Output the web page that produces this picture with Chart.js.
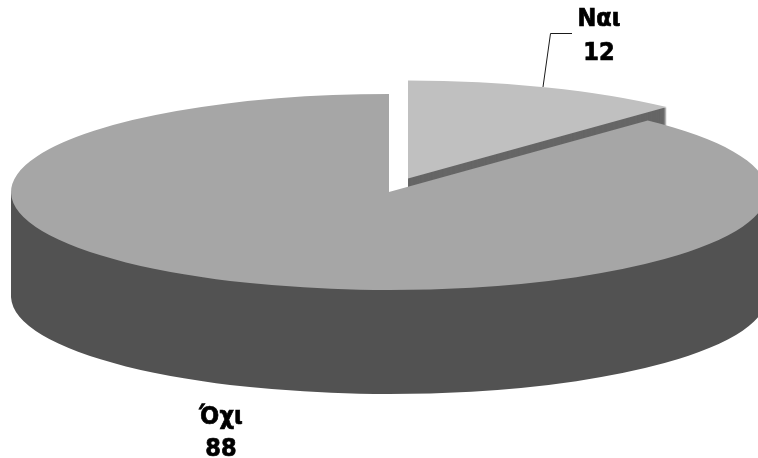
<!DOCTYPE html>
<html>
<head>
<meta charset="utf-8">
<style>
  html, body { margin: 0; background: #fff; overflow: hidden; }
</style>
<script src="https://cdn.jsdelivr.net/npm/chart.js@4"></script>
</head>
<body>
<canvas id="pie" width="758" height="458"></canvas>
<script>
const categories = ["Ναι", "Όχι"];
const values = [12, 88];
const topColors = ["#c0c0c0", "#a6a6a6"];
const wallColors = ["#666666", "#525252"];

const RADIUS = 378;
const TILT = 98 / 378;      // squash of the pie into an ellipse
const DEPTH = 104;
const CENTER_Y = 192;
const EXPLODE = [[19, -13.5], [0, 0]];

const pie3d = {
    id: 'pie3d',
    beforeDatasetsDraw(chart) {
        const ctx = chart.ctx;
        const arcs = chart.getDatasetMeta(0).data;

        arcs.forEach((arc, i) => {
            const opts = arc.options;
            const paint = (color, y) => {
                ctx.save();
                ctx.translate(EXPLODE[i][0], CENTER_Y + EXPLODE[i][1] + y);
                ctx.scale(1, TILT);
                ctx.translate(0, -arc.y);
                arc.options = Object.assign({}, opts, { backgroundColor: color, borderWidth: 0, offset: 0 });
                arc.draw(ctx);
                ctx.restore();
            };

            if (i === 0) {
                // small slice: sweep the wedge down, one pixel at a time
                for (let d = DEPTH; d > 0; d--) paint(wallColors[i], d);
            } else {
                // big slice: bottom face plus a block, the top face hides the rest
                paint(wallColors[i], DEPTH);
                ctx.fillStyle = wallColors[i];
                ctx.fillRect(arc.x - arc.outerRadius, CENTER_Y, arc.outerRadius * 2, DEPTH);
            }
            paint(topColors[i], 0);
            arc.options = opts;
        });
        return false;
    },
    afterDraw(chart) {
        const ctx = chart.ctx;
        ctx.save();

        // leader line for the small slice
        ctx.strokeStyle = "#1a1a1a";
        ctx.lineWidth = 1;
        ctx.beginPath();
        ctx.moveTo(543, 87);
        ctx.lineTo(550.5, 33.5);
        ctx.lineTo(572, 33.5);
        ctx.stroke();

        // labels, stroked a little to get the weight of the original bold face
        const label = (text, x, y) => {
            ctx.fillText(text, x, y);
            ctx.strokeText(text, x, y);
        };
        ctx.fillStyle = "#000";
        ctx.strokeStyle = "#000";
        ctx.lineWidth = 0.7;
        ctx.font = "bold 25px 'DejaVu Sans Condensed', 'DejaVu Sans'";
        ctx.textAlign = "center";
        ctx.textBaseline = "alphabetic";
        label(categories[0], 599, 26);
        label(String(values[0]), 599, 60);
        label(categories[1], 221, 423.5);
        label(String(values[1]), 221, 456);
        ctx.restore();
    }
};

new Chart(document.getElementById('pie').getContext('2d'), {
    type: 'pie',
    data: {
        labels: categories,
        datasets: [{
            data: values,
            backgroundColor: topColors,
            borderWidth: 0,
            clip: false
        }]
    },
    options: {
        responsive: false,
        animation: false,
        radius: RADIUS,
        layout: { padding: { left: 20 } },
        plugins: { legend: { display: false }, tooltip: { enabled: false } }
    },
    plugins: [pie3d]
});
</script>
</body>
</html>
